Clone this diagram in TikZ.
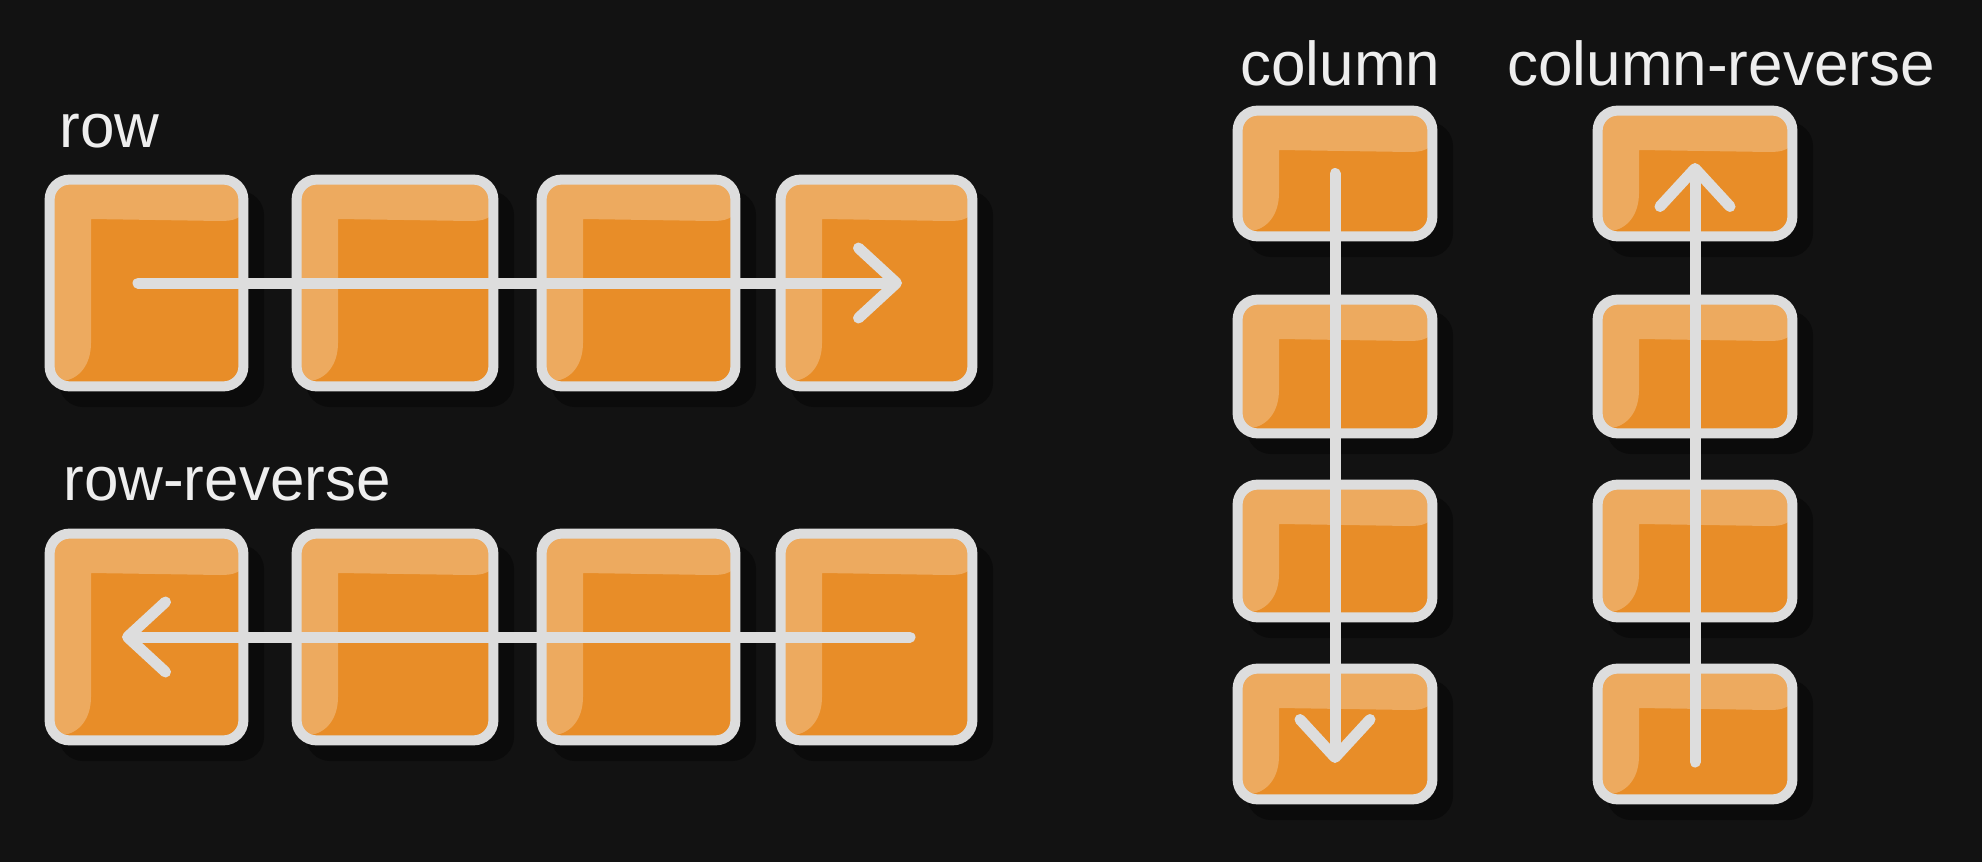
\documentclass[tikz,border=0pt]{standalone}
\usepackage{fontspec}
\setmainfont{Liberation Sans}
\usetikzlibrary{arrows.meta}
\definecolor{bg}{HTML}{121212}
\definecolor{shade}{HTML}{0B0B0B}
\definecolor{boxorange}{HTML}{E88D28}
\definecolor{boxhl}{HTML}{EDAA5F}
\definecolor{boxline}{HTML}{DDDDDD}
\definecolor{labeltext}{HTML}{EEEEEE}
\tikzset{
 boxbody/.style={rectangle, rounded corners=10pt, inner sep=0pt, fill=boxorange},
 boxedge/.style={draw=boxline, line width=5pt, rounded corners=10pt},
 boxshadow/.style={fill=shade, rounded corners=12pt},
 flowarrow/.style={draw=boxline, line width=5.5pt, line cap=round, -{Straight Barb[length=19pt,width=35pt,round]}},
 lbl/.style={anchor=base west, inner sep=0pt, text=labeltext, font=\fontsize{31}{36}\selectfont},
}
\newcommand{\flexbox}[5]{%
 \fill[boxshadow] (#2+14,#3+16) rectangle (#4+16,#5+16);
 \node[boxbody, minimum width={(#4-#2-10)*0.5pt}, minimum height={(#5-#3-10)*0.5pt}] (#1) at ({(#2+#4)/2},{(#3+#5)/2}) {};
 \begin{scope}
 \clip[rounded corners=10pt] (#1.south west) rectangle (#1.north east);
 \fill[boxhl] (#2,#3) -- (#4,#3) -- (#4,#3+30) .. controls (#4-6,#3+44) and (#4-14,#3+46) .. (#4-28,#3+46) -- (#2+46,#3+44) -- (#2+46,#5-48) .. controls (#2+46,#5-26) and (#2+34,#5-12) .. (#2+18,#5-10) -- (#2,#5) -- cycle;
 \end{scope}
 \draw[boxedge] (#1.south west) rectangle (#1.north east);
}
\begin{document}
\begin{tikzpicture}[x=0.5pt,y=-0.5pt]
\fill[bg] (0,0) rectangle (1982,862);
\useasboundingbox (0,0) rectangle (1982,862);
% row
\flexbox{r1}{45}{175}{248}{391}
\flexbox{r2}{292}{175}{498}{391}
\flexbox{r3}{537}{175}{740}{391}
\flexbox{r4}{776}{175}{977}{391}
% row-reverse
\flexbox{s1}{45}{529}{248}{745}
\flexbox{s2}{292}{529}{498}{745}
\flexbox{s3}{537}{529}{740}{745}
\flexbox{s4}{776}{529}{977}{745}
% column
\flexbox{c1}{1233}{106}{1437}{241}
\flexbox{c2}{1233}{295}{1437}{438}
\flexbox{c3}{1233}{480}{1437}{622}
\flexbox{c4}{1233}{664}{1437}{804}
% column-reverse
\flexbox{d1}{1593}{106}{1797}{241}
\flexbox{d2}{1593}{295}{1797}{438}
\flexbox{d3}{1593}{480}{1797}{622}
\flexbox{d4}{1593}{664}{1797}{804}
% labels
\node[lbl] (lrow) at (59,147) {row};
\node[lbl] (lrowrev) at (63,500) {row-reverse};
\node[lbl] (lcol) at (1240,85) {column};
\node[lbl] (lcolrev) at (1507,85) {column-reverse};
% arrows
\draw[flowarrow] ([xshift=-4.25pt]r1.center) -- ([xshift=12.75pt]r4.center);
\draw[flowarrow] ([xshift=16.75pt]s4.center) -- ([xshift=-12.25pt]s1.center);
\draw[flowarrow] (c1.center) -- ([yshift=-14.5pt]c4.center);
\draw[flowarrow] ([yshift=-14pt]d4.center) -- ([yshift=5.25pt]d1.center);
\end{tikzpicture}
\end{document}
